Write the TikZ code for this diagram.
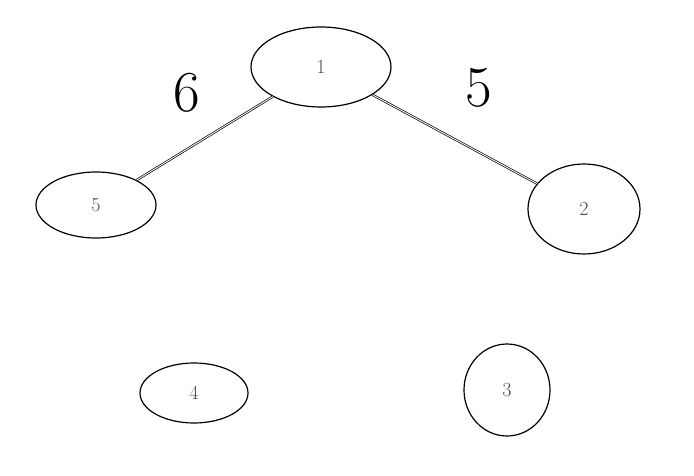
\documentclass[tikz,border=0pt]{standalone}
\usepackage{tikz}
\usetikzlibrary{shapes.geometric, positioning, calc}

\tikzset{
    vertex/.style={draw, ellipse, line width=1.2pt, inner sep=0pt, font=\fontsize{20}{20}\selectfont, text=black!70},
    edge/.style={draw, double, double distance=0.9pt, line width=0.7pt},
    weight/.style={font=\fontsize{58}{58}\selectfont}
}

\begin{document}
\begin{tikzpicture}[x=1pt, y=-1pt]
    % Canvas
    \useasboundingbox (0,0) rectangle (694,476);

    % Vertices
    \node[vertex, minimum width=140pt, minimum height=80pt] (n1) at (321,67) {1};
    \node[vertex, minimum width=120pt, minimum height=66pt] (n5) at (96,205) {5};
    \node[vertex, minimum width=112pt, minimum height=90pt] (n2) at (584,209) {2};
    \node[vertex, minimum width=108pt, minimum height=60pt] (n4) at (194,393) {4};
    \node[vertex, minimum width=86pt, minimum height=92pt] (n3) at (507,390) {3};

    % Edges with weights
    \draw[edge] (n1) -- (n5);
    \draw[edge] (n1) -- (n2);
    \node[weight] (w15) at (187,93) {6};
    \node[weight] (w12) at (479,88) {5};

\end{tikzpicture}
\end{document}
